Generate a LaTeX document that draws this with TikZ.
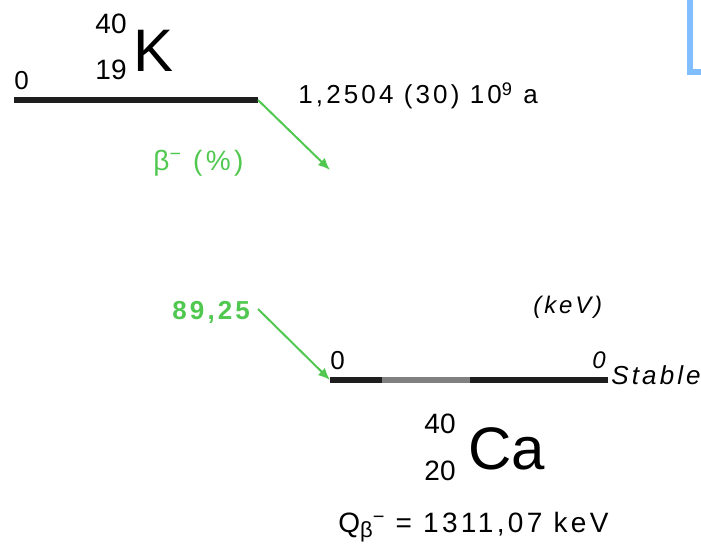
\documentclass[tikz,border=0pt]{standalone}
\usepackage{fontspec}
\setmainfont{Liberation Sans}[LetterSpace=12]
\newfontfamily\elemfont{Liberation Sans}
\usetikzlibrary{arrows.meta,positioning}
\definecolor{decgreen}{RGB}{80,200,80}
\definecolor{lvldark}{RGB}{30,30,30}
\definecolor{lvlgray}{RGB}{128,128,128}
\definecolor{markblue}{RGB}{128,190,255}
\tikzset{
  lvl/.style={line width=3pt, draw=#1},
  lvl/.default=lvldark,
  decay/.style={-{Latex[length=6pt,width=5pt]}, line width=1pt, draw=decgreen},
  lbl/.style={inner sep=0pt, font=\fontsize{13}{15}\selectfont},
  iso/.style={inner sep=0pt, font=\elemfont\fontsize{14}{16}\selectfont},
  elem/.style={inner sep=0pt, font=\elemfont\fontsize{30}{34}\selectfont},
}

\begin{document}
\begin{tikzpicture}[x=0.5pt,y=-0.5pt,
    gr/.style={text=decgreen},
    it/.style={font=\fontsize{12}{14}\selectfont\itshape}]
  \useasboundingbox (0,0) rectangle (701,544);
  % parent: 40K
  \coordinate (k0) at (14,100);
  \coordinate (k1) at (258,100);
  \draw[lvl] (k0) -- (k1);
  \node[lbl, anchor=base west] (kzero) at (14,90) {0};
  \node[elem, anchor=base west] (ksym) at (133,72) {K};
  \node[iso, anchor=base east] (kmass) at (127,34) {40};
  \node[iso, anchor=base east] (kz) at (127,80) {19};
  \node[lbl, anchor=base west] (khalf) at (298,104) {1,2504 (30) 10\textsuperscript{9} a};
  \coordinate (kbeta) at (330,170);
  \draw[decay] (k1) -- (kbeta);
  \node[lbl, gr, font=\fontsize{14}{16}\selectfont, anchor=base west] (betalbl) at (153,171) {β\textsuperscript{−} (\%)};
  % daughter: 40Ca
  \coordinate (c0) at (330,380);
  \coordinate (c1) at (382,380);
  \coordinate (c2) at (470,380);
  \coordinate (c3) at (608,380);
  \draw[lvl] (c0) -- (c1);
  \draw[lvl=lvlgray] (c1) -- (c2);
  \draw[lvl] (c2) -- (c3);
  \node[lbl, gr, font=\fontsize{13}{15}\selectfont\bfseries, anchor=base west] (branch) at (172,320) {89,25};
  \coordinate (bstart) at (258,309);
  \draw[decay] (bstart) -- (c0);
  \node[lbl, anchor=base west] (czero) at (330,370) {0};
  \node[lbl, it, anchor=base west] (unit) at (533,314) {(keV)};
  \node[lbl, it, anchor=base west] (cen) at (592,369) {0};
  \node[lbl, it, font=\fontsize{13}{15}\selectfont\itshape, anchor=base west] (stable) at (611,385) {Stable};
  \node[elem, anchor=base west] (casym) at (468,470) {Ca};
  \node[iso, anchor=base east] (camass) at (456,434) {40};
  \node[iso, anchor=base east] (caz) at (456,481) {20};
  \node[lbl, font=\fontsize{14}{16}\selectfont, anchor=base west] (qval) at (338,532)
    {Q\raisebox{-0.35ex}{\fontsize{11}{12}\selectfont β}\raisebox{0.6ex}{\fontsize{10}{11}\selectfont −} = 1311,07 keV};
  % stray mark at top right
  \draw[markblue, line width=3pt] (690,0) -- (690,72.5) -- (701,72.5);
\end{tikzpicture}
\end{document}
